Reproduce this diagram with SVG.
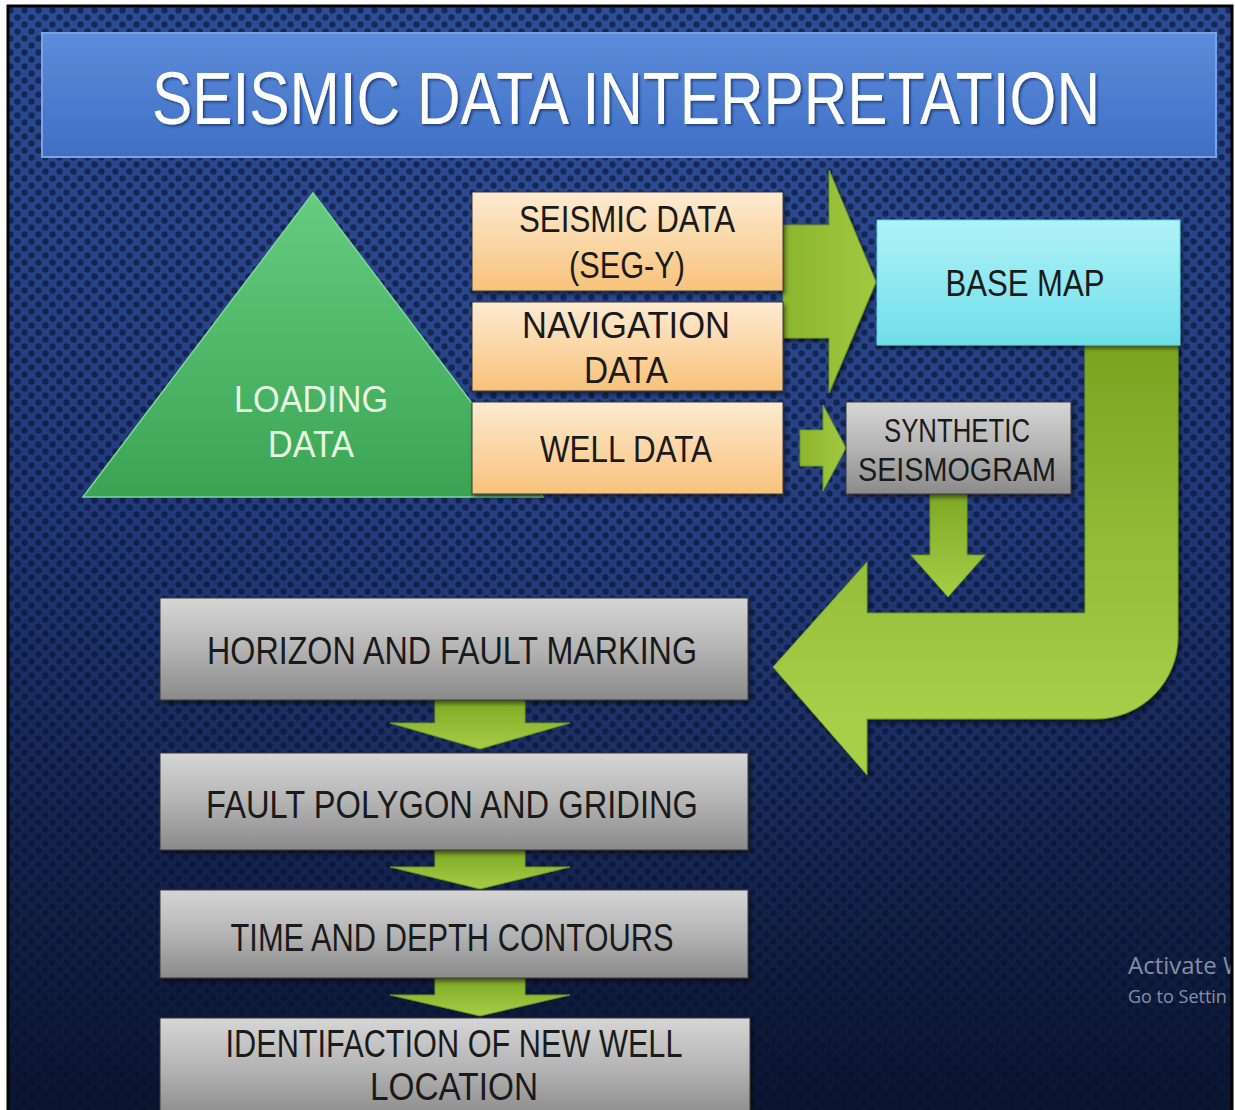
<svg xmlns="http://www.w3.org/2000/svg" width="1235" height="1110" viewBox="0 0 1235 1110">
<defs>
<linearGradient id="bg" x1="0" y1="0" x2="0" y2="1">
<stop offset="0" stop-color="#2b4c94"/>
<stop offset="0.45" stop-color="#1f3676"/>
<stop offset="1" stop-color="#0c152f"/>
</linearGradient>
<radialGradient id="bgGlow" cx="0.5" cy="0.3" r="0.6">
<stop offset="0" stop-color="#3a5ca8" stop-opacity="0.35"/>
<stop offset="1" stop-color="#3a5ca8" stop-opacity="0"/>
</radialGradient>
<pattern id="dots" width="14" height="14" patternUnits="userSpaceOnUse">
<circle cx="3.5" cy="3.5" r="3.2" fill="#06102e" fill-opacity="0.6"/>
<circle cx="10.5" cy="10.5" r="3.2" fill="#06102e" fill-opacity="0.6"/>
</pattern>
<linearGradient id="title" x1="0" y1="0" x2="0" y2="1">
<stop offset="0" stop-color="#5d8cdb"/>
<stop offset="1" stop-color="#3f6fc4"/>
</linearGradient>
<linearGradient id="tri" x1="0" y1="0" x2="0" y2="1">
<stop offset="0" stop-color="#66cc80"/>
<stop offset="1" stop-color="#3ba454"/>
</linearGradient>
<linearGradient id="orange" x1="0" y1="0" x2="0" y2="1">
<stop offset="0" stop-color="#fdebd2"/>
<stop offset="1" stop-color="#f8c27a"/>
</linearGradient>
<linearGradient id="cyan" x1="0" y1="0" x2="0" y2="1">
<stop offset="0" stop-color="#b0f2f8"/>
<stop offset="1" stop-color="#6fdfea"/>
</linearGradient>
<linearGradient id="gray" x1="0" y1="0" x2="0" y2="1">
<stop offset="0" stop-color="#d6d6d6"/>
<stop offset="0.5" stop-color="#b4b4b4"/>
<stop offset="1" stop-color="#8a8a8a"/>
</linearGradient>
<linearGradient id="green" x1="0" y1="0" x2="0" y2="1">
<stop offset="0" stop-color="#7fa825"/>
<stop offset="1" stop-color="#a6cd45"/>
</linearGradient>
<linearGradient id="greenH" x1="0" y1="0" x2="1" y2="0">
<stop offset="0" stop-color="#8cb62e"/>
<stop offset="1" stop-color="#a2c840"/>
</linearGradient>
<linearGradient id="uturn" gradientUnits="userSpaceOnUse" x1="0" y1="345" x2="0" y2="720">
<stop offset="0" stop-color="#7aa420"/>
<stop offset="1" stop-color="#a9cf4a"/>
</linearGradient>
<filter id="shadow" x="-10%" y="-10%" width="120%" height="130%">
<feDropShadow dx="2" dy="3" stdDeviation="2" flood-color="#000" flood-opacity="0.5"/>
</filter>
<filter id="tshadow" x="-5%" y="-20%" width="110%" height="140%">
<feDropShadow dx="2" dy="2" stdDeviation="1" flood-color="#1c3a78" flood-opacity="0.8"/>
</filter>
<clipPath id="slide"><rect x="8" y="6" width="1224" height="1104"/></clipPath>
</defs>
<style>
.lbl{font-family:"Liberation Sans","DejaVu Sans",sans-serif;text-anchor:middle;fill:#1a1a1a;}
.box{stroke:#3a3a3a;stroke-width:1;}
.arr{stroke:#6f9a1c;stroke-width:1;}
</style>

<rect x="0" y="0" width="1235" height="1110" fill="#ffffff"/>
<g clip-path="url(#slide)">
<rect x="8" y="6" width="1224" height="1104" fill="url(#bg)"/>
<rect x="8" y="6" width="1224" height="1104" fill="url(#bgGlow)"/>
<rect x="8" y="6" width="1224" height="1104" fill="url(#dots)"/>
<text x="1128" y="974" font-family="'Open Sans','Liberation Sans',sans-serif" font-size="24" fill="#8590a6">Activate W</text>
<text x="1128" y="1003" font-family="'Open Sans','Liberation Sans',sans-serif" font-size="18" fill="#8590a6">Go to Settin</text>
</g>
<rect x="8" y="6" width="1224" height="1110" fill="none" stroke="#000" stroke-width="3"/>

<g id="title-bar">
<rect x="42" y="33" width="1174" height="124" fill="url(#title)" stroke="#7aa2e4" stroke-width="2"/>
<text x="626" y="124" font-family="'Liberation Sans','DejaVu Sans',sans-serif" font-size="74" fill="#ffffff" text-anchor="middle" textLength="948" lengthAdjust="spacingAndGlyphs" filter="url(#tshadow)">SEISMIC DATA INTERPRETATION</text>
</g>

<g id="loading-data">
<polygon points="313,193 83,497 543,497" fill="url(#tri)" stroke="#7fd890" stroke-width="1.5"/>
<text class="lbl" x="311" y="412" font-size="36" style="fill:#e6f7e2" textLength="154" lengthAdjust="spacingAndGlyphs">LOADING</text>
<text class="lbl" x="311" y="457" font-size="36" style="fill:#e6f7e2" textLength="86" lengthAdjust="spacingAndGlyphs">DATA</text>
</g>

<g id="connectors">
<path class="arr" d="M783,225 L829,225 L829,170 L876,282 L829,393 L829,338 L783,338 Z" fill="url(#greenH)" filter="url(#shadow)"/>
<path class="arr" d="M800,430 L823,430 L823,405 L846,448 L823,491 L823,466 L800,466 Z" fill="url(#greenH)"/>
<path class="arr" d="M930,494 L967,494 L967,555 L985,555 L948,597 L911,555 L930,555 Z" fill="url(#green)"/>
<path class="arr" d="M1085,345 L1178,345 L1178,637 A82,82 0 0 1 1096,719 L867,719 L867,775 L773,667 L867,562 L867,613 L1085,613 Z" fill="url(#uturn)" filter="url(#shadow)"/>
<path class="arr" d="M435,700 L525,700 L525,723 L570,723 L480,749 L390,723 L435,723 Z" fill="url(#green)"/>
<path class="arr" d="M435,850 L525,850 L525,867 L570,867 L480,889 L390,867 L435,867 Z" fill="url(#green)"/>
<path class="arr" d="M435,978 L525,978 L525,995 L570,995 L480,1016 L390,995 L435,995 Z" fill="url(#green)"/>
</g>

<g id="seismic-data">
<rect class="box" x="472" y="192" width="311" height="99" fill="url(#orange)" filter="url(#shadow)"/>
<text class="lbl" x="627" y="232" font-size="36" textLength="216" lengthAdjust="spacingAndGlyphs">SEISMIC DATA</text>
<text class="lbl" x="627" y="278" font-size="36" textLength="116" lengthAdjust="spacingAndGlyphs">(SEG-Y)</text>
</g>
<g id="navigation-data">
<rect class="box" x="472" y="302" width="311" height="89" fill="url(#orange)" filter="url(#shadow)"/>
<text class="lbl" x="626" y="338" font-size="36" textLength="208" lengthAdjust="spacingAndGlyphs">NAVIGATION</text>
<text class="lbl" x="626" y="383" font-size="36" textLength="84" lengthAdjust="spacingAndGlyphs">DATA</text>
</g>
<g id="well-data">
<rect class="box" x="472" y="402" width="311" height="92" fill="url(#orange)" filter="url(#shadow)"/>
<text class="lbl" x="626" y="462" font-size="36" textLength="172" lengthAdjust="spacingAndGlyphs">WELL DATA</text>
</g>

<g id="base-map">
<rect x="877" y="220" width="303" height="125" fill="url(#cyan)" stroke="#5fd0dc" stroke-width="1" filter="url(#shadow)"/>
<text class="lbl" x="1025" y="296" font-size="36" textLength="159" lengthAdjust="spacingAndGlyphs">BASE MAP</text>
</g>

<g id="synthetic-seismogram">
<rect class="box" x="846" y="402" width="225" height="92" fill="url(#gray)" filter="url(#shadow)"/>
<text class="lbl" x="957" y="442" font-size="33" textLength="146" lengthAdjust="spacingAndGlyphs">SYNTHETIC</text>
<text class="lbl" x="957" y="481" font-size="33" textLength="198" lengthAdjust="spacingAndGlyphs">SEISMOGRAM</text>
</g>

<g id="horizon-fault-marking">
<rect class="box" x="160" y="598" width="588" height="102" fill="url(#gray)" filter="url(#shadow)"/>
<text class="lbl" x="452" y="664" font-size="38" textLength="490" lengthAdjust="spacingAndGlyphs">HORIZON AND FAULT MARKING</text>
</g>
<g id="fault-polygon-griding">
<rect class="box" x="160" y="753" width="588" height="97" fill="url(#gray)" filter="url(#shadow)"/>
<text class="lbl" x="452" y="818" font-size="38" textLength="492" lengthAdjust="spacingAndGlyphs">FAULT POLYGON AND GRIDING</text>
</g>
<g id="time-depth-contours">
<rect class="box" x="160" y="890" width="588" height="88" fill="url(#gray)" filter="url(#shadow)"/>
<text class="lbl" x="452" y="951" font-size="38" textLength="443" lengthAdjust="spacingAndGlyphs">TIME AND DEPTH CONTOURS</text>
</g>
<g id="new-well-location">
<rect class="box" x="160" y="1018" width="590" height="100" fill="url(#gray)" filter="url(#shadow)"/>
<text class="lbl" x="454" y="1057" font-size="38" textLength="457" lengthAdjust="spacingAndGlyphs">IDENTIFACTION OF NEW WELL</text>
<text class="lbl" x="454" y="1100" font-size="38" textLength="168" lengthAdjust="spacingAndGlyphs">LOCATION</text>
</g>
</svg>
